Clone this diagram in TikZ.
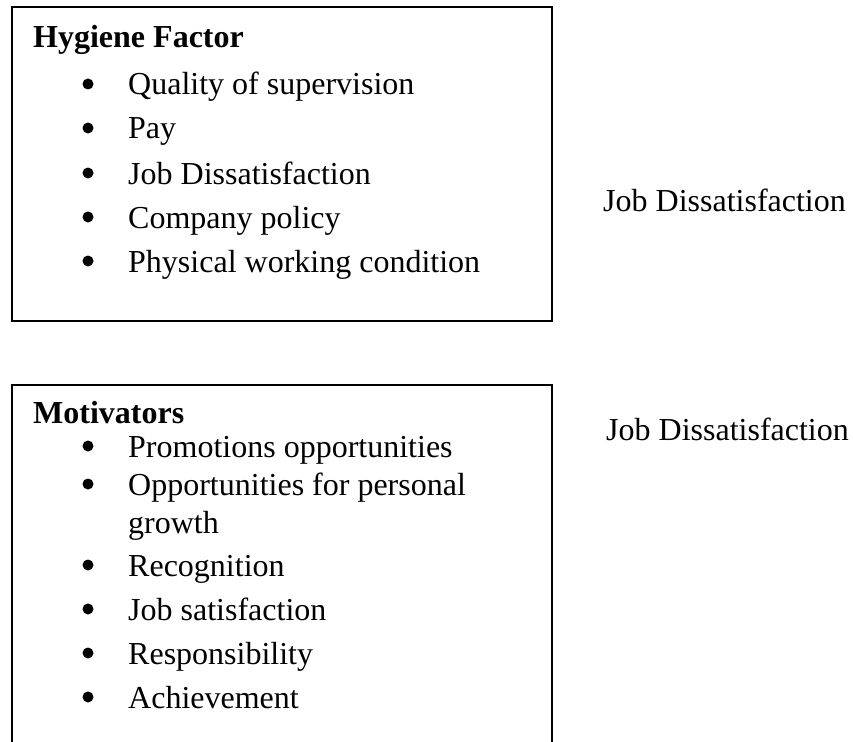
\documentclass[tikz,border=0pt]{standalone}
\usepackage{fontspec}
\setmainfont{Liberation Serif}
\begin{document}
\begin{tikzpicture}[x=1pt,y=-1pt,
  frame/.style={line width=2pt},
  txt/.style={anchor=base west, inner sep=0pt, font=\fontsize{32}{38}\selectfont},
  head/.style={txt, font=\fontsize{32}{38}\selectfont\bfseries},
  dot/.style={circle, fill=black, inner sep=0pt, minimum size=11pt}]
\useasboundingbox[fill=white] (0,0) rectangle (853,741);

% Hygiene factor box
\draw[frame] (11.5,7.5) rectangle (552,320.5);
\node[head] (hyg) at (33,48) {Hygiene Factor};
\foreach \y/\t [count=\i] in {95/Quality of supervision, 139/Pay,
    184/Job Dissatisfaction, 228/Company policy, 272/Physical working condition} {
  \node[dot] (hb\i) at (88,\y-11) {};
  \node[txt] (hi\i) at (128,\y) {\t};
}
\node[txt] (out1) at (603,211) {Job Dissatisfaction};

% Motivators box (runs past the lower edge)
\coordinate (mbl) at (11.5,745);
\coordinate (mbr) at (552,745);
\draw[frame] (mbl) -- (11.5,385) -- (552,385) -- (mbr);
\node[head] (mot) at (33,423) {Motivators};
\foreach \y/\t [count=\i] in {457/Promotions opportunities, 495/Opportunities for personal,
    576/Recognition, 620/Job satisfaction, 664/Responsibility, 708/Achievement} {
  \node[dot] (mb\i) at (88,\y-11) {};
  \node[txt] (mi\i) at (128,\y) {\t};
}
\node[txt] (mi2b) at (128,533) {growth};
\node[txt] (out2) at (606,440) {Job Dissatisfaction};
\end{tikzpicture}
\end{document}
